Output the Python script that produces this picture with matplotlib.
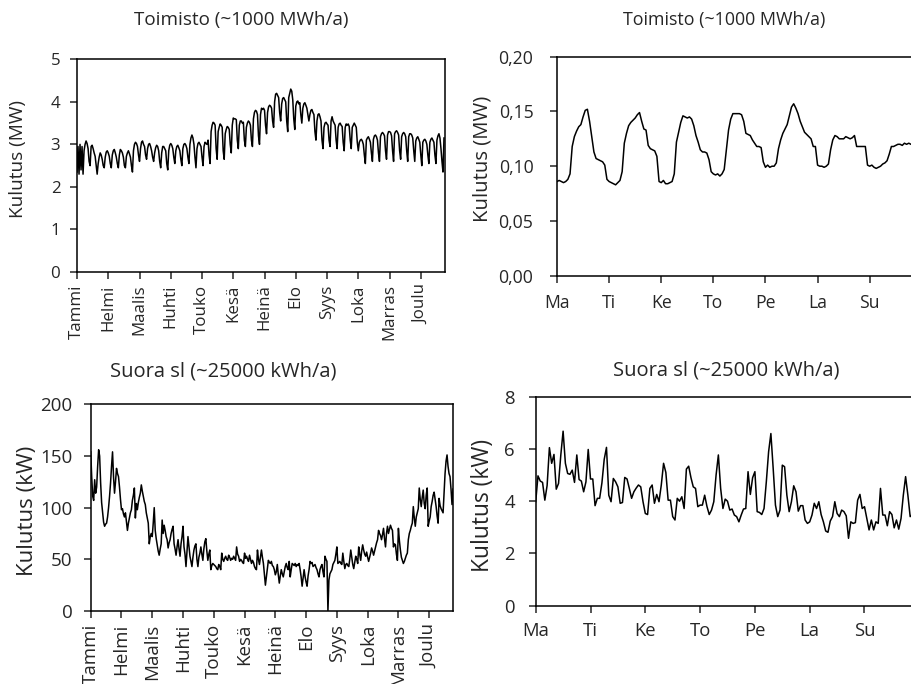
import matplotlib
matplotlib.use("Agg")
import matplotlib.pyplot as plt
import numpy as np

plt.rcParams['font.family'] = ['Open Sans', 'DejaVu Sans']

# ---- data -------------------------------------------------------------
months = ["Tammi", "Helmi", "Maalis", "Huhti", "Touko", "Kesä",
          "Heinä", "Elo", "Syys", "Loka", "Marras", "Joulu"]
weekdays = ["Ma", "Ti", "Ke", "To", "Pe", "La", "Su"]

title_office = "Toimisto (~1000 MWh/a)"
title_heating = "Suora sl (~25000 kWh/a)"
ylabel_mw = "Kulutus (MW)"
ylabel_kw = "Kulutus (kW)"

# Office building, daily mean power over one year (MW)
office_daily = [
    2.35, 2.95, 2.30, 3.00, 2.40, 2.95, 2.30,
    2.85, 3.00, 3.08, 3.02, 2.90, 2.60, 2.50,
    2.95, 2.98, 2.90, 2.80, 2.72, 2.50, 2.30,
    2.55, 2.70, 2.80, 2.75, 2.65, 2.50, 2.45,
    2.70, 2.82, 2.85, 2.80, 2.72, 2.55, 2.45,
    2.75, 2.85, 2.88, 2.80, 2.70, 2.55, 2.45,
    2.75, 2.88, 2.85, 2.80, 2.70, 2.50, 2.45,
    2.72, 2.80, 2.85, 2.78, 2.70, 2.50, 2.35,
    2.85, 3.00, 3.05, 3.02, 2.95, 2.75, 2.60,
    2.90, 3.05, 3.08, 3.00, 2.95, 2.75, 2.65,
    2.90, 3.00, 3.02, 2.95, 2.85, 2.70, 2.60,
    2.80, 2.92, 2.98, 2.95, 2.85, 2.60, 2.45,
    2.80, 2.95, 2.95, 2.90, 2.85, 2.55, 2.40,
    2.85, 2.98, 3.02, 2.98, 2.90, 2.70, 2.55,
    2.85, 2.95, 2.98, 2.92, 2.85, 2.65, 2.50,
    2.90, 3.00, 3.02, 2.98, 2.90, 2.70, 2.55,
    3.00, 3.15, 3.22, 3.15, 3.00, 2.70, 2.45,
    2.90, 3.02, 3.05, 3.00, 2.95, 2.70, 2.50,
    2.95, 3.05, 3.02, 3.00, 3.10, 2.75, 2.55,
    3.30, 3.45, 3.52, 3.50, 3.45, 2.90, 2.65,
    3.30, 3.40, 3.48, 3.45, 3.40, 2.85, 2.65,
    3.25, 3.35, 3.42, 3.40, 3.35, 3.00, 2.80,
    3.45, 3.62, 3.60, 3.60, 3.58, 3.10, 2.90,
    3.45, 3.55, 3.55, 3.50, 3.52, 3.10, 2.95,
    3.40, 3.50, 3.55, 3.52, 3.45, 3.10, 2.95,
    3.60, 3.75, 3.80, 3.78, 3.70, 3.20, 3.00,
    3.70, 3.85, 3.82, 3.85, 3.80, 3.45, 3.25,
    3.75, 3.88, 3.92, 3.90, 3.85, 3.55, 3.40,
    4.00, 4.18, 4.20, 4.15, 4.10, 3.75, 3.55,
    3.95, 4.08, 4.10, 4.05, 4.00, 3.55, 3.30,
    4.10, 4.20, 4.30, 4.25, 4.05, 3.60, 3.35,
    3.90, 4.00, 4.02, 3.95, 3.98, 3.70, 3.50,
    3.85, 3.95, 3.98, 3.92, 3.85, 3.70, 3.55,
    3.70, 3.80, 3.82, 3.75, 3.70, 3.30, 3.10,
    3.55, 3.70, 3.72, 3.65, 3.55, 3.10, 2.90,
    3.40, 3.50, 3.52, 3.48, 3.45, 3.10, 2.95,
    3.55, 3.65, 3.55, 3.50, 3.45, 3.10, 2.90,
    3.40, 3.48, 3.50, 3.45, 3.42, 3.05, 2.85,
    3.40, 3.48, 3.45, 3.48, 3.42, 3.10, 2.90,
    3.40, 3.45, 3.50, 3.45, 3.40, 3.05, 2.85,
    3.05, 3.10, 3.12, 3.08, 3.00, 2.75, 2.55,
    3.10, 3.15, 3.18, 3.12, 3.05, 2.80, 2.60,
    3.12, 3.20, 3.22, 3.18, 3.10, 2.80, 2.60,
    3.18, 3.25, 3.28, 3.25, 3.20, 2.85, 2.65,
    3.22, 3.30, 3.30, 3.28, 3.20, 2.85, 2.60,
    3.25, 3.30, 3.32, 3.28, 3.22, 2.85, 2.65,
    3.18, 3.25, 3.28, 3.25, 3.18, 2.85, 2.60,
    3.18, 3.25, 3.25, 3.22, 3.15, 2.85, 2.60,
    3.08, 3.15, 3.18, 3.12, 3.05, 2.75, 2.50,
    3.05, 3.10, 3.12, 3.08, 3.00, 2.75, 2.55,
    3.05, 3.12, 3.15, 3.10, 3.05, 2.75, 2.55,
    3.10, 3.20, 3.25, 3.15, 2.90, 2.60, 2.35,
    3.15,
]

# Office building, hourly power over one week (MW)
office_hourly = [
    .086, .087, .086, .085, .086, .088, .093, .118, .127, .132, .136, .138,
    .145, .151, .152, .141, .127, .113, .107, .106, .105, .104, .101, .088,
    .086, .085, .084, .083, .085, .087, .095, .121, .130, .137, .140, .142,
    .144, .147, .149, .141, .134, .133, .119, .116, .115, .114, .109, .086,
    .085, .087, .084, .084, .085, .086, .093, .122, .131, .140, .146, .145,
    .144, .145, .143, .137, .128, .122, .115, .113, .113, .112, .106, .095,
    .093, .092, .093, .091, .093, .097, .115, .133, .143, .148, .148, .148,
    .148, .147, .141, .130, .129, .128, .124, .121, .118, .118, .117, .104,
    .099, .101, .099, .100, .100, .103, .116, .124, .130, .134, .138, .146,
    .154, .157, .153, .148, .141, .136, .131, .129, .127, .125, .118, .118,
    .101, .100, .100, .099, .100, .102, .115, .124, .128, .127, .125, .125,
    .125, .127, .126, .125, .126, .128, .118, .118, .118, .118, .118, .101,
    .100, .101, .099, .098, .099, .100, .102, .103, .105, .111, .118, .118,
    .119, .120, .120, .119, .121, .120, .121, .120, .120, .119, .120, .118,
]

# Direct electric heating, daily mean power over one year (kW)
heating_daily = [
    154, 130, 111, 107, 127, 114, 120, 140, 156, 150, 124, 105, 95, 86, 82,
    84, 85, 91, 100, 111, 124, 140, 154, 130, 114, 125, 138, 133, 130, 120,
    108, 98, 99, 94, 91, 95, 86, 78, 85, 90, 95, 98, 107, 112, 119, 90, 104,
    98, 105, 110, 114, 122, 116, 111, 106, 103, 95, 90, 85, 65, 72, 75, 72,
    85, 100, 78, 70, 64, 58, 54, 60, 65, 88, 75, 83, 78, 72, 69, 61, 66, 69,
    75, 79, 82, 65, 60, 54, 62, 69, 60, 53, 65, 72, 82, 62, 55, 43, 58, 72,
    62, 53, 48, 43, 52, 59, 63, 65, 50, 43, 52, 56, 62, 55, 49, 60, 67, 70,
    58, 49, 55, 59, 40, 44, 46, 45, 44, 43, 41, 40, 45, 43, 40, 56, 50, 48,
    51, 53, 50, 49, 54, 52, 49, 51, 50, 53, 51, 49, 62, 55, 53, 48, 50, 49,
    47, 46, 56, 51, 53, 50, 48, 54, 50, 46, 49, 47, 43, 41, 40, 59, 50, 45,
    52, 59, 52, 46, 35, 25, 33, 41, 49, 47, 46, 48, 44, 43, 40, 35, 38, 45,
    35, 27, 34, 40, 36, 33, 38, 43, 46, 42, 40, 48, 33, 40, 46, 45, 44, 46,
    43, 45, 44, 46, 40, 33, 24, 32, 40, 33, 28, 24, 34, 40, 48, 46, 47, 43,
    44, 45, 42, 40, 36, 33, 40, 43, 45, 38, 33, 53, 50, 48, 0, 30, 36, 38,
    40, 45, 47, 49, 55, 62, 46, 47, 48, 46, 45, 56, 48, 41, 45, 46, 44, 43,
    50, 59, 52, 45, 41, 47, 53, 50, 46, 62, 55, 49, 58, 64, 59, 55, 53, 57,
    52, 48, 52, 56, 61, 58, 54, 58, 62, 66, 69, 78, 75, 73, 69, 74, 80, 70,
    62, 75, 82, 75, 79, 83, 80, 78, 62, 65, 64, 55, 49, 80, 68, 59, 52, 49,
    46, 48, 51, 54, 56, 69, 75, 78, 82, 85, 101, 90, 82, 91, 95, 99, 119,
    108, 101, 110, 117, 104, 99, 112, 119, 82, 87, 91, 101, 106, 112, 115,
    108, 101, 92, 85, 109, 102, 99, 97, 95, 115, 133, 145, 151, 140, 133,
    130, 118, 103, 118,
]

# Direct electric heating, hourly power over one week (kW)
heating_hourly = [
    3.98, 4.97, 4.77, 4.72, 4.04, 4.60, 6.05, 5.45, 5.79, 4.46, 4.68, 5.77,
    6.68, 5.45, 5.06, 5.03, 5.19, 4.72, 5.77, 4.83, 4.77, 4.36, 4.74, 5.98,
    4.85, 4.85, 3.83, 4.11, 4.11, 4.70, 5.60, 6.06, 4.23, 3.98, 4.87, 4.74,
    4.55, 3.92, 3.95, 4.91, 4.85, 4.49, 4.11, 4.36, 4.50, 4.62, 4.55, 3.98,
    3.53, 3.49, 4.49, 4.62, 3.92, 4.26, 3.98, 4.62, 5.45, 5.10, 4.04, 4.04,
    3.41, 3.28, 4.11, 4.00, 4.17, 3.72, 5.23, 5.34, 4.90, 4.55, 4.49, 3.79,
    3.85, 3.85, 4.23, 3.80, 3.49, 3.66, 3.98, 5.00, 5.77, 4.49, 3.72, 4.08,
    4.00, 3.66, 3.70, 3.47, 3.41, 3.21, 3.47, 3.70, 3.72, 5.13, 4.26, 4.90,
    5.13, 3.60, 3.57, 3.49, 3.72, 4.74, 5.89, 6.59, 5.26, 3.85, 3.41, 3.66,
    5.38, 5.32, 4.23, 3.60, 3.98, 4.59, 4.36, 3.62, 3.83, 3.83, 3.28, 3.15,
    3.21, 3.47, 3.92, 3.72, 3.98, 3.49, 3.21, 2.86, 2.81, 3.24, 3.41, 3.98,
    3.53, 3.41, 3.66, 3.60, 3.44, 2.58, 3.21, 3.15, 3.18, 4.04, 4.26, 3.72,
    3.79, 3.34, 2.90, 3.28, 2.90, 3.21, 3.15, 4.49, 3.47, 3.47, 3.06, 3.60,
    3.49, 2.98, 3.28, 2.93, 3.34, 4.23, 4.94, 4.23, 3.41, 3.50, 3.70, 3.60,
]

office_mw_ticks = [0, 1, 2, 3, 4, 5]
office_week_ticks = [0.00, 0.05, 0.10, 0.15, 0.20]
office_week_ticklabels = ["0,00", "0,05", "0,10", "0,15", "0,20"]
heating_kw_ticks = [0, 50, 100, 150, 200]
heating_week_ticks = [0, 2, 4, 6, 8]

# ---- figure -----------------------------------------------------------
W, H = 912, 684
fig = plt.figure(figsize=(W / 100, H / 100), dpi=100)
TXT = '#262626'


def px_axes(left, top, right, bottom):
    return fig.add_axes([left / W, 1 - bottom / H, (right - left) / W,
                         (bottom - top) / H])


def text_px(x, y, s, **kw):
    return fig.text(x / W, 1 - y / H, s, ha='center', va='center',
                    color=TXT, **kw)


def fit(artist, target_px, vertical=False):
    """Scale an artist's font so that its extent is target_px pixels."""
    r = fig.canvas.get_renderer()
    bb = artist.get_window_extent(r)
    size = bb.height if vertical else bb.width
    artist.set_fontsize(artist.get_fontsize() * target_px / size)


def style(ax, xpad, ypad):
    for s in ax.spines.values():
        s.set_linewidth(1.1)
    ax.tick_params(direction='out', length=5, width=1.1, labelsize=12,
                   colors=TXT)
    ax.tick_params(axis='x', pad=xpad)
    ax.tick_params(axis='y', pad=ypad)


def fit_ticks(ax, axis, index, target_px, vertical=False):
    fig.canvas.draw()
    labels = ax.get_xticklabels() if axis == 'x' else ax.get_yticklabels()
    lab = labels[index]
    bb = lab.get_window_extent(fig.canvas.get_renderer())
    size = bb.height if vertical else bb.width
    ax.tick_params(labelsize=lab.get_fontsize() * target_px / size)


line_kw = dict(color='black', lw=1.1)

# Year, office
ax1 = px_axes(77, 59.3, 445, 272)
days = np.arange(len(office_daily))
ax1.plot(days, office_daily, **line_kw)
ax1.set_xlim(0, 365)
ax1.set_ylim(0, 5)
ax1.set_yticks(office_mw_ticks)
ax1.set_xticks(np.arange(12) * 31)
ax1.set_xticklabels(months, rotation=90)
style(ax1, 4, 7)

# Week, office
ax2 = px_axes(557, 56.7, 921.8, 275.7)
hours = np.arange(len(office_hourly))
ax2.plot(hours, office_hourly, **line_kw)
ax2.set_xlim(0, 168)
ax2.set_ylim(0, 0.2)
ax2.set_yticks(office_week_ticks)
ax2.set_yticklabels(office_week_ticklabels)
ax2.set_xticks(np.arange(7) * 24)
ax2.set_xticklabels(weekdays)
style(ax2, 8, 12)

# Year, direct electric heating
ax3 = px_axes(90.7, 404.3, 453, 611)
days3 = np.arange(len(heating_daily))
ax3.plot(days3, heating_daily, **line_kw)
ax3.set_xlim(0, 365)
ax3.set_ylim(0, 200)
ax3.set_yticks(heating_kw_ticks)
ax3.set_xticks(np.arange(12) * 31)
ax3.set_xticklabels(months, rotation=90)
style(ax3, 4, 8)

# Week, direct electric heating
ax4 = px_axes(535.7, 396.7, 919.3, 605.7)
hours4 = np.arange(len(heating_hourly))
ax4.plot(hours4, heating_hourly, **line_kw)
ax4.set_xlim(0, 168)
ax4.set_ylim(0, 8)
ax4.set_yticks(heating_week_ticks)
ax4.set_xticks(np.arange(7) * 24)
ax4.set_xticklabels(weekdays)
style(ax4, 7, 10)

# Tick label sizes from the extent of one label per panel
fit_ticks(ax1, 'x', 0, 54, vertical=True)    # "Tammi"
fit_ticks(ax2, 'y', 4, 35)                   # "0,20"
fit_ticks(ax3, 'x', 0, 60, vertical=True)    # "Tammi"
fit_ticks(ax4, 'x', 0, 27)                   # "Ma"

# Axis labels
yl = [text_px(18, 159, ylabel_mw, rotation=90),
      text_px(483, 159, ylabel_mw, rotation=90),
      text_px(28, 511, ylabel_kw, rotation=90),
      text_px(483, 505, ylabel_kw, rotation=90)]
for t, length in zip(yl, [118, 126, 131, 133]):
    fit(t, length, vertical=True)

# Panel titles
tt = [text_px(241, 20, title_office),
      text_px(724, 20, title_office),
      text_px(223, 372, title_heating),
      text_px(726, 370, title_heating)]
for t, length in zip(tt, [214, 203, 227, 227]):
    fit(t, length)

fig.savefig("out.png", dpi=100)
